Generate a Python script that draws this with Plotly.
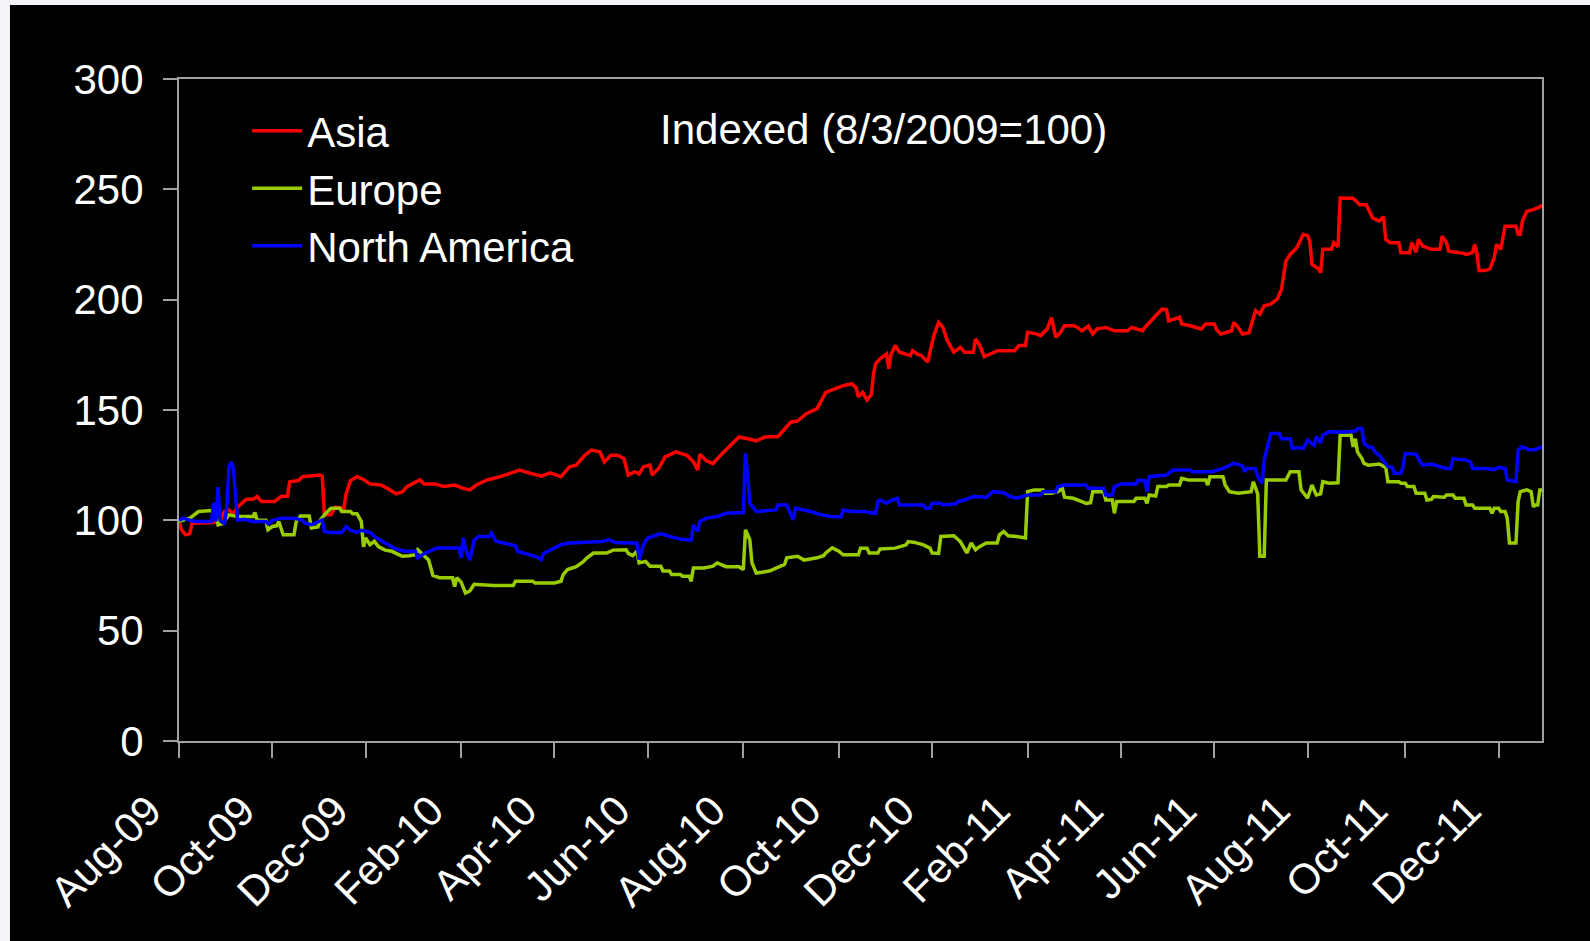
import plotly.graph_objects as go
import pandas as pd

# Trading days are counted from the index date 8/3/2009 (day 0)
START_DATE = "2009-08-03"
N_DAYS = 629

tick_dates = ["2009-08-03", "2009-10-01", "2009-12-01", "2010-02-01", "2010-04-01",
              "2010-06-01", "2010-08-02", "2010-10-01", "2010-12-01", "2011-02-01",
              "2011-04-01", "2011-06-01", "2011-08-01", "2011-10-03", "2011-12-01"]
tick_labels = ["Aug-09", "Oct-09", "Dec-09", "Feb-10", "Apr-10", "Jun-10", "Aug-10",
               "Oct-10", "Dec-10", "Feb-11", "Apr-11", "Jun-11", "Aug-11", "Oct-11", "Dec-11"]

y_ticks = [0, 50, 100, 150, 200, 250, 300]

asia_day = [0, 1, 3, 5, 6, 12, 16, 19, 21, 23, 25, 27, 29, 31, 34, 36, 38, 44, 47, 50,
            51, 55, 57, 65, 66, 67, 70, 72, 76, 77, 79, 82, 85, 88, 93, 96, 100, 103, 105, 108,
            111, 113, 118, 122, 127, 131, 134, 137, 142, 148, 153, 157, 162, 167, 171, 176, 180, 183, 187, 190,
            194, 196, 199, 202, 205, 207, 210, 212, 214, 217, 218, 221, 224, 229, 234, 237, 239, 240, 243, 246,
            250, 255, 258, 262, 266, 270, 276, 282, 285, 289, 294, 298, 302, 306, 310, 312, 313, 315, 317, 319,
            320, 321, 323, 326, 327, 328, 330, 332, 336, 337, 338, 340, 342, 345, 346, 348, 350, 352, 354, 357,
            360, 362, 366, 367, 369, 371, 374, 377, 385, 387, 390, 391, 395, 397, 400, 402, 404, 406, 408, 412,
            414, 416, 419, 421, 423, 427, 431, 437, 439, 444, 445, 447, 450, 453, 455, 456, 459, 461, 462, 466,
            471, 473, 477, 478, 480, 485, 486, 488, 490, 493, 496, 498, 500, 503, 506, 508, 510, 512, 515, 518,
            520, 521, 522, 525, 526, 527, 531, 532, 534, 535, 541, 544, 547, 548, 550, 553, 555, 556, 558, 562,
            563, 567, 568, 570, 571, 573, 577, 581, 582, 584, 585, 592, 593, 596, 597, 598, 599, 602, 604, 606,
            607, 609, 610, 611, 616, 617, 618, 619, 621, 624, 627, 628]
asia_val = [100, 96, 93.5, 94, 98.7, 98.7, 99, 100, 104, 104.7, 103, 106, 108, 109.5, 109.5, 110.8, 108.5, 108.5, 110.8, 111,
            117.5, 118, 119.8, 120.5, 120, 102.5, 102.5, 106, 105.5, 112, 118, 119.8, 118.5, 116.5, 116, 114.5, 112, 113, 115.3, 116.8,
            118.3, 116.5, 116.5, 115.3, 116, 114.5, 113.8, 116, 118.3, 119.8, 121.3, 122.8, 121.3, 120, 121.5, 119.8, 124.3, 125, 129.5, 131.8,
            131, 126.5, 129.5, 129.5, 128, 120.5, 122, 121, 124.3, 125, 120.5, 123.5, 128.8, 131, 129.5, 126.5, 122.8, 130, 127, 125.7,
            130, 134.8, 137.8, 137, 136, 137.8, 138, 144.6, 145, 148.3, 150.6, 158, 159.6, 161, 161.9, 160, 156, 158, 154.5, 157,
            166.4, 171, 173.2, 175.4, 168.7, 175, 179.2, 176.2, 175, 174.7, 176.9, 175.4, 174.7, 171.7, 176.2, 184.4, 189.7, 187.4, 181.4, 176.2,
            178.4, 176.2, 176.2, 182.2, 179.2, 174.2, 175.4, 176.9, 176.9, 179.2, 179.2, 185.2, 184.5, 183.7, 186.7, 191.9, 182.9, 185, 188.2, 188.2,
            187.4, 185.9, 188, 184.5, 186.8, 187.4, 185.9, 185.9, 187.4, 185.9, 187.4, 189.7, 192.7, 195.7, 195.5, 190.4, 191.2, 192, 189, 188.2,
            186.7, 189, 189, 186.5, 184.4, 185.9, 189.7, 187.5, 184.4, 185, 195, 193.5, 197.2, 198, 200.2, 204.7, 217.5, 220.5, 223.5, 229.6,
            229, 226.6, 216, 214, 212.3, 222.8, 222.8, 225.8, 224, 246.1, 246, 243, 243, 240.8, 237, 235.6, 237.6, 227.3, 225.8, 225.8,
            221.3, 221.3, 225.8, 221.5, 227.3, 224.3, 222.8, 222.8, 228.8, 225.8, 222, 221, 220.5, 221.3, 225, 221, 213.2, 213.2, 214, 219,
            225, 222.8, 228, 233.3, 233.3, 229.6, 229.6, 235.6, 240.1, 240.8, 242, 243]

europe_day = [0, 2, 5, 9, 15, 17, 18, 20, 21, 23, 27, 34, 35, 36, 40, 41, 43, 45, 46, 48,
              53, 54, 56, 60, 61, 64, 65, 67, 70, 74, 75, 79, 80, 82, 84, 85, 86, 88, 90, 92,
              95, 98, 100, 103, 106, 109, 110, 112, 115, 117, 120, 126, 127, 128, 130, 132, 134, 136, 145, 154,
              155, 163, 164, 173, 176, 177, 179, 183, 186, 188, 191, 197, 200, 206, 207, 209, 211, 212, 215, 217,
              222, 223, 226, 227, 231, 232, 235, 236, 237, 242, 246, 248, 252, 258, 260, 261, 263, 264, 266, 272,
              275, 279, 280, 285, 288, 294, 297, 298, 301, 304, 306, 313, 314, 317, 318, 322, 323, 330, 335, 336,
              339, 343, 346, 347, 350, 351, 357, 360, 363, 365, 367, 369, 372, 377, 378, 380, 382, 386, 390, 391,
              394, 398, 399, 402, 405, 407, 408, 412, 416, 418, 420, 421, 426, 427, 430, 431, 432, 440, 441, 445,
              446, 447, 450, 451, 455, 456, 461, 462, 465, 473, 474, 475, 481, 482, 484, 488, 494, 495, 497, 498,
              500, 501, 510, 511, 512, 516, 517, 520, 522, 524, 526, 527, 530, 534, 535, 540, 541, 542, 543, 545,
              546, 548, 553, 556, 557, 562, 563, 565, 566, 569, 570, 574, 575, 577, 578, 583, 584, 587, 588, 592,
              593, 596, 597, 604, 605, 606, 608, 609, 611, 612, 613, 616, 617, 618, 621, 623, 624, 625, 626, 627,
              628]
europe_val = [99.5, 100, 101, 104, 104.4, 102.5, 98, 98.5, 100, 102.5, 101.7, 101.7, 103.5, 100, 100, 95.7, 97.2, 97.5, 99.5, 93.5,
              93.5, 99.5, 102, 102, 96.5, 97, 100, 102.5, 105.5, 105.5, 104, 104, 103, 103, 99.5, 88, 92, 89, 90.5, 88,
              86.5, 86, 85, 83.7, 84, 84.4, 86.7, 85, 82, 75, 74, 74, 70, 74, 72, 67, 68, 71, 70.5, 70.5,
              72.4, 72.4, 71.6, 71.6, 72.4, 75.4, 77.7, 79, 81, 83, 85.2, 85.2, 86.5, 86.7, 85, 84, 86, 80.7, 81.4, 79.2,
              79.2, 77, 77, 75.4, 75.4, 74.7, 74.7, 72.4, 78.4, 78.4, 79.2, 80.7, 79, 79, 77.7, 95.7, 91.2, 80.7, 76.1, 77,
              78.4, 80, 83, 83.7, 82, 83, 84, 85.2, 87.5, 86, 84.4, 84.4, 87.4, 87.4, 85.2, 85.2, 87, 87.4, 88.9, 90.4,
              90, 88.9, 87.4, 85.2, 85, 92.7, 93, 90.4, 85.2, 89.7, 86.7, 88.2, 89.7, 89.7, 93.4, 94.9, 93, 92.7, 92, 113,
              113.8, 113.8, 112.3, 112.3, 113, 114.5, 110.5, 110, 108.5, 107.7, 108, 113, 113, 109.2, 109.2, 103.2, 108.5, 108.5, 110, 110,
              107.7, 111.5, 111, 115.3, 115.3, 116, 116, 119, 118.3, 118.3, 116, 119.8, 119.8, 116, 113, 112.3, 113, 117.5, 112, 83.7,
              83.7, 118.3, 118.3, 119.8, 122, 122, 113.8, 110, 116, 111.5, 112, 117.5, 116.8, 117, 138.6, 138.6, 133.3, 137, 131, 128,
              125.8, 125, 125.5, 124, 117.5, 117.5, 116.8, 116.8, 115.3, 115.3, 112.3, 112.3, 109.2, 109.5, 110.8, 110.5, 111.5, 111.5, 110, 110,
              107, 107, 105.5, 105.5, 103.2, 105.5, 105.5, 104, 104, 101, 89.7, 89.7, 108.5, 113, 113.8, 113, 106.2, 107, 107, 113.8,
              113.8]

namerica_day = [0, 2, 5, 8, 15, 16, 17, 18, 19, 20, 21, 22, 23, 24, 25, 26, 27, 30, 34, 40,
                41, 42, 43, 47, 53, 57, 58, 61, 64, 66, 67, 70, 75, 77, 79, 82, 84, 88, 91, 96,
                100, 104, 109, 110, 113, 119, 129, 130, 131, 132, 134, 136, 138, 143, 144, 146, 150, 153, 155, 156,
                160, 164, 167, 168, 172, 176, 180, 188, 195, 198, 201, 208, 211, 212, 214, 216, 222, 226, 231, 236,
                237, 239, 240, 243, 248, 252, 260, 261, 262, 263, 266, 275, 276, 280, 282, 283, 284, 291, 296, 300,
                305, 306, 310, 316, 318, 321, 322, 323, 326, 328, 331, 332, 343, 344, 346, 347, 351, 352, 358, 359,
                362, 366, 372, 375, 380, 383, 386, 391, 397, 398, 404, 405, 408, 418, 419, 426, 427, 430, 431, 434,
                441, 442, 445, 446, 447, 455, 458, 466, 467, 476, 481, 486, 490, 491, 492, 496, 497, 499, 500, 503,
                507, 508, 512, 513, 515, 518, 520, 522, 523, 524, 526, 527, 530, 537, 542, 543, 545, 546, 548, 550,
                551, 553, 556, 557, 559, 560, 563, 564, 565, 570, 571, 573, 577, 579, 581, 584, 586, 587, 593, 595,
                596, 602, 606, 608, 611, 612, 616, 617, 619, 622, 625, 628]
namerica_val = [100, 101, 100, 99.5, 99.5, 108, 99.5, 115, 100, 99, 98.7, 106, 124, 126.5, 124, 112, 100, 100.5, 99.5, 99.5,
                98.4, 99, 100, 101, 101, 100, 98.7, 98, 99.5, 100.2, 95, 94.5, 94.5, 97.2, 95.5, 94.5, 95.5, 94.5, 92, 89,
                87, 86, 86, 83, 85, 87.5, 87.5, 83, 92, 87, 82, 91, 92.7, 92.7, 94.2, 90.5, 89.5, 89, 88.5, 86,
                85, 83.7, 82.2, 85, 87, 89, 89.7, 90, 90.4, 91.2, 90, 89.7, 89.7, 82.2, 89, 92, 94, 92.7, 91.5, 91,
                97.9, 95, 99.5, 101, 101.7, 103.2, 103.5, 130.3, 121, 107.7, 104, 104.7, 107, 107, 103, 100.2, 105.5, 104, 102.5, 101.7,
                101.5, 104.7, 104, 104, 103.5, 103.2, 108.5, 109.2, 107.7, 109, 110, 107, 107, 105.5, 105.5, 107.7, 107.7, 107, 107.5, 108.5,
                109.2, 110.8, 110.5, 113, 112.5, 110.8, 110, 111.5, 111.5, 113, 113, 115.3, 116, 116, 114.5, 114.5, 111.5, 111.5, 115.3, 116.5,
                116.5, 118.2, 118, 113, 119.8, 120.5, 122.8, 122.8, 122, 122, 123.5, 125.8, 124.8, 122, 123.5, 123.5, 119.8, 116.8, 127.3, 139.3,
                139.3, 137, 137, 132.6, 133, 132.6, 136.3, 135, 134, 138, 135, 138.6, 140.1, 140, 140.5, 141.6, 141.6, 134.8, 133.3, 133,
                131, 129.5, 125.8, 124.3, 124, 121.3, 121.3, 124.3, 130.3, 130, 128, 125, 125.5, 124.8, 124.3, 123.5, 123.5, 128, 127.3, 126.5,
                123.5, 123.5, 123, 124, 123.5, 118.3, 117.5, 131.8, 133.3, 132, 132, 133.3]

trading_days = pd.bdate_range(START_DATE, periods=N_DAYS)


def to_dates(day_numbers):
    return [trading_days[d] for d in day_numbers]


FONT = "Arial, 'Liberation Sans', sans-serif"
AXIS_GREY = "#a0a0a0"
FS = 42

fig = go.Figure()
series = [
    ("Asia", asia_day, asia_val, "#FF0000"),
    ("Europe", europe_day, europe_val, "#99CC00"),
    ("North America", namerica_day, namerica_val, "#0000FF"),
]
for name, days, vals, color in series:
    fig.add_trace(go.Scatter(
        x=to_dates(days), y=vals, name=name, mode="lines",
        line=dict(color=color, width=3.5), legendgroup=name,
    ))

fig.update_layout(
    width=1590, height=941, autosize=False,
    margin=dict(l=179, r=48, t=79, b=200, pad=0),
    paper_bgcolor="#000000", plot_bgcolor="#000000",
    font=dict(family=FONT, color="#FFFFFF", size=FS),
    showlegend=True,
    legend=dict(
        x=0.05, y=0.973, xanchor="left", yanchor="top",
        bgcolor="rgba(0,0,0,0)", font=dict(family=FONT, size=FS, color="#FFFFFF"),
        tracegroupgap=0, itemwidth=50,
    ),
    annotations=[dict(
        text="Indexed (8/3/2009=100)", xref="paper", yref="paper",
        x=0.3514, y=0.923, xanchor="left", yanchor="middle", showarrow=False,
        font=dict(family=FONT, size=FS, color="#FFFFFF"),
    )],
    shapes=[
        dict(type="rect", xref="paper", yref="paper", x0=-0.2, x1=-0.124, y0=-0.4, y1=1.3,
             fillcolor="#f2f4f8", line=dict(width=0), layer="below"),
        dict(type="rect", xref="paper", yref="paper", x0=-0.2, x1=1.1, y0=1.1118, y1=1.3,
             fillcolor="#f2f4f8", line=dict(width=0), layer="below"),
    ],
)

fig.update_xaxes(
    type="date",
    range=[trading_days[0], trading_days[N_DAYS - 1]],
    rangebreaks=[dict(bounds=["sat", "mon"])],
    tickmode="array", tickvals=tick_dates, ticktext=tick_labels,
    tickangle=-45, ticks="outside", ticklen=15, tickwidth=2, tickcolor=AXIS_GREY,
    showline=True, linecolor=AXIS_GREY, linewidth=2, mirror=True,
    showgrid=False, zeroline=False,
    tickfont=dict(family=FONT, size=FS, color="#FFFFFF"),
    ticklabelshift=-30, ticklabelstandoff=11,
)
fig.update_yaxes(
    range=[0, 300], tickmode="array", tickvals=y_ticks,
    ticks="outside", ticklen=14, tickwidth=2, tickcolor=AXIS_GREY,
    showline=True, linecolor=AXIS_GREY, linewidth=2, mirror=True,
    showgrid=False, zeroline=False,
    tickfont=dict(family=FONT, size=FS, color="#FFFFFF"),
    ticklabelstandoff=11,
)

fig.write_html("out.html", config={"displayModeBar": False},
               post_script="document.body.style.margin='0';")
